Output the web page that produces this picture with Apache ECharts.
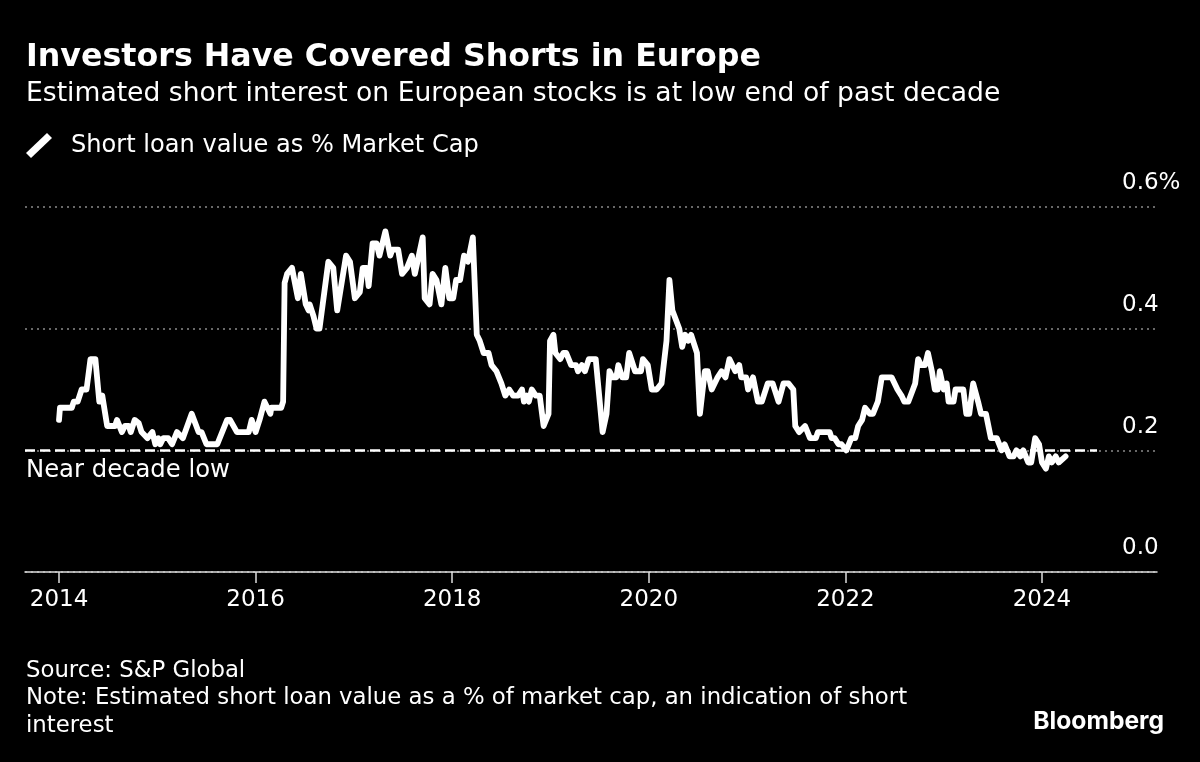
<!DOCTYPE html>
<html>
<head>
<meta charset="utf-8">
<style>html,body{margin:0;background:#000}#chart{width:1200px;height:762px}</style>
<script src="https://cdn.jsdelivr.net/npm/echarts@6/dist/echarts.min.js"></script>
</head>
<body>
<div id="chart"></div>
<script>
const years = [
  2014.00,2014.01,2014.13,2014.15,2014.19,2014.23,2014.28,2014.32,2014.37,2014.41,2014.44,2014.49,2014.57,2014.59,2014.64,2014.67,2014.71,2014.73,2014.77,2014.81,2014.84,2014.90,2014.95,2014.98,
  2015.01,2015.03,2015.06,2015.11,2015.15,2015.20,2015.26,2015.35,2015.42,2015.45,2015.50,2015.61,2015.71,2015.74,2015.81,2015.93,2015.96,
  2016.00,2016.04,2016.09,2016.15,2016.16,2016.26,2016.28,2016.295,2016.32,2016.34,2016.37,2016.43,2016.46,2016.48,2016.51,2016.54,2016.55,2016.59,2016.62,2016.65,2016.74,2016.79,2016.83,2016.92,2016.96,
  2017.01,2017.06,2017.09,2017.13,2017.15,2017.19,2017.23,2017.26,2017.32,2017.34,2017.37,2017.39,2017.45,2017.49,2017.54,2017.59,2017.62,2017.70,2017.72,2017.77,2017.80,2017.84,2017.89,2017.93,2017.97,
  2018.01,2018.04,2018.08,2018.12,2018.16,2018.21,2018.25,2018.28,2018.32,2018.37,2018.40,2018.45,2018.50,2018.54,2018.58,2018.62,2018.67,2018.71,2018.73,2018.76,2018.78,2018.81,2018.85,2018.89,2018.93,2018.98,2018.995,
  2019.03,2019.05,2019.10,2019.13,2019.16,2019.21,2019.26,2019.28,2019.32,2019.35,2019.39,2019.46,2019.53,2019.57,2019.60,2019.63,2019.67,2019.69,2019.73,2019.77,2019.80,2019.86,2019.92,2019.94,2019.99,
  2020.03,2020.08,2020.13,2020.18,2020.21,2020.24,2020.26,2020.31,2020.34,2020.37,2020.40,2020.43,2020.49,2020.52,2020.57,2020.60,2020.64,2020.66,2020.70,2020.74,2020.78,2020.82,2020.84,2020.88,2020.92,2020.94,2020.99,
  2021.01,2021.06,2021.11,2021.15,2021.21,2021.26,2021.32,2021.34,2021.37,2021.42,2021.47,2021.49,2021.53,2021.59,2021.64,2021.70,2021.72,2021.84,2021.86,2021.89,2021.93,2021.96,
  2022.01,2022.06,2022.10,2022.13,2022.17,2022.20,2022.25,2022.28,2022.33,2022.37,2022.47,2022.53,2022.57,2022.60,2022.64,2022.71,2022.74,2022.77,2022.81,2022.84,2022.88,2022.91,2022.94,2022.96,
  2023.00,2023.03,2023.05,2023.10,2023.12,2023.20,2023.23,2023.26,2023.30,2023.35,2023.38,2023.43,2023.48,2023.54,2023.59,2023.62,2023.67,2023.71,2023.74,2023.78,2023.81,2023.86,2023.89,2023.93,2023.97,
  2024.00,2024.04,2024.07,2024.10,2024.14,2024.17,2024.24
];
const shortLoanValue = [
  .25,.27,.27,.28,.28,.30,.30,.35,.35,.28,.29,.24,.24,.25,.23,.24,.24,.23,.25,.245,.23,.22,.23,.21,
  .22,.21,.22,.22,.21,.23,.22,.26,.23,.23,.21,.21,.25,.25,.23,.23,.25,
  .23,.25,.28,.26,.27,.27,.28,.475,.49,.49,.50,.45,.49,.49,.44,.43,.44,.42,.40,.40,.51,.50,.43,.52,.51,
  .45,.46,.50,.50,.47,.54,.54,.52,.56,.56,.52,.53,.53,.49,.50,.52,.49,.55,.45,.44,.49,.48,.44,.50,.45,
  .45,.48,.48,.52,.51,.55,.39,.38,.36,.36,.34,.33,.31,.29,.30,.29,.29,.30,.28,.29,.28,.30,.29,.29,.24,.26,.38,
  .39,.36,.35,.36,.36,.34,.34,.33,.34,.33,.35,.35,.23,.26,.33,.32,.32,.34,.32,.32,.36,.33,.33,.35,.34,
  .30,.30,.31,.38,.48,.43,.43,.40,.37,.39,.38,.39,.36,.26,.33,.33,.30,.30,.32,.33,.32,.35,.35,.33,.34,.32,.32,
  .30,.32,.28,.28,.31,.31,.28,.28,.31,.31,.30,.24,.23,.24,.22,.22,.23,.23,.22,.22,.21,.21,
  .20,.22,.22,.24,.25,.27,.26,.26,.28,.32,.32,.30,.29,.28,.28,.31,.35,.34,.34,.36,.33,.30,.30,.33,
  .30,.31,.28,.28,.30,.30,.26,.26,.31,.28,.26,.26,.22,.22,.20,.21,.19,.19,.20,.19,.20,.18,.18,.22,.21,
  .18,.17,.19,.18,.19,.18,.19
];
const yearTicks = [2014,2016,2018,2020,2022,2024];
const yTicks = [0,0.2,0.4,0.6];
const decadeLow = 0.2;
const decadeLowEnd = 2024.56;

const FONT = '"DejaVu Sans"';
const chart = echarts.init(document.getElementById('chart'));

const plainText = (text, left, top, size, weight) => ({
  text, left, top,
  padding: 0,
  textStyle: {color: '#fff', fontFamily: FONT, fontSize: size, fontWeight: weight || 'normal', lineHeight: size * 1.2}
});

chart.setOption({
  backgroundColor: '#000',
  animation: false,
  title: [
    plainText('Investors Have Covered Shorts in Europe', 26, 39, 31.7, 'bold'),
    plainText('Estimated short interest on European stocks is at low end of past decade', 26, 78, 26.6),
    plainText('Source: S&P Global', 26, 657, 22.8),
    plainText('Note: Estimated short loan value as a % of market cap, an indication of short', 26, 684, 22.8),
    plainText('interest', 26, 712, 22.8),
    {
      text: 'Bloomberg', right: 36, top: 707, padding: 0,
      textStyle: {color: '#fff', fontFamily: 'Inter', fontSize: 24.6, fontWeight: 'bold', lineHeight: 30}
    }
  ],
  legend: {
    left: 26, top: 133,
    padding: 0,
    itemWidth: 26, itemHeight: 25, itemGap: 0,
    icon: 'path://M0 20 L21 0 L26 5 L5 25 Z',
    textStyle: {color: '#fff', fontFamily: FONT, fontSize: 24.1, padding: [0, 0, 0, 14]},
    data: ['Short loan value as % Market Cap']
  },
  grid: {left: 25, right: 43, top: 207, bottom: 190},
  xAxis: {
    type: 'value',
    min: 2013.654,
    max: 2025.17,
    splitLine: {show: false},
    axisLine: {onZero: false, lineStyle: {color: '#ddd', width: 1.5}},
    axisTick: {customValues: yearTicks, length: 11, lineStyle: {color: '#ddd', width: 1.5}},
    axisLabel: {
      customValues: yearTicks,
      color: '#fff', fontFamily: FONT, fontSize: 23, margin: 17,
      formatter: v => String(v)
    }
  },
  yAxis: {
    type: 'value',
    position: 'right',
    min: 0,
    max: 0.6,
    interval: 0.2,
    axisLine: {show: false},
    axisTick: {show: false},
    splitLine: {lineStyle: {color: '#8a8a8a', width: 1.5, type: [2, 4]}},
    axisLabel: {
      customValues: yTicks,
      inside: true,
      margin: 35,
      align: 'left',
      verticalAlign: 'bottom',
      padding: [0, 0, 12, 0],
      color: '#fff', fontFamily: FONT, fontSize: 23,
      formatter: v => (v === 0.6 ? v.toFixed(1) + '%' : v.toFixed(1))
    }
  },
  series: [{
    name: 'Short loan value as % Market Cap',
    type: 'line',
    data: years.map((y, i) => [y, shortLoanValue[i]]),
    showSymbol: false,
    itemStyle: {color: '#fff'},
    lineStyle: {color: '#fff', width: 5.8, join: 'round', cap: 'round'},
    markLine: {
      silent: true,
      symbol: 'none',
      lineStyle: {color: '#fff', width: 2.5, type: [10, 5]},
      label: {
        position: 'insideStartBottom',
        distance: [1, 8],
        formatter: 'Near decade low',
        color: '#fff', fontFamily: FONT, fontSize: 24.3
      },
      data: [[{coord: [2013.654, decadeLow]}, {coord: [decadeLowEnd, decadeLow]}]]
    }
  }]
});
</script>
</body>
</html>
